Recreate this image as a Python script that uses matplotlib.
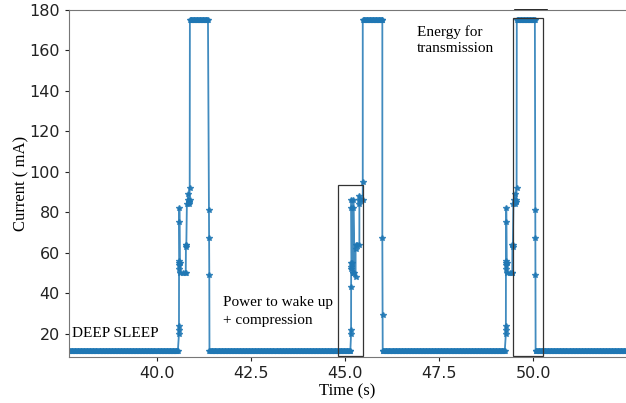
import numpy as np
import matplotlib.pyplot as plt
from matplotlib.patches import Rectangle

plt.rcParams['font.family'] = ['DejaVu Sans']
serif = ['Liberation Serif', 'DejaVu Serif']

# sampling step of the logger (s)
dt = 0.02

# flat parts: (start, end, current mA)
sleep_level = 11.3
tx_level = 175.0
sleep_parts = [(37.60, 40.58), (41.40, 45.15), (46.00, 49.26), (50.06, 52.50)]
tx_parts = [(40.88, 41.38), (45.47, 45.99), (49.56, 50.05)]

# wake up + compression (fast samples), one list per cycle
wake1_t = [40.59, 40.59, 40.59, 40.592, 40.595, 40.60, 40.60, 40.60, 40.60,
           40.61, 40.62, 40.70, 40.76, 40.77, 40.775, 40.78, 40.785, 40.80,
           40.82, 40.83, 40.85, 40.86, 40.87, 40.875]
wake1_i = [20, 22, 24, 54, 56, 52, 55, 75, 82,
           55, 50, 50, 50, 50, 64, 64, 63, 84,
           86, 89, 84, 85, 86, 92]
wake2_t = [45.16, 45.16, 45.16, 45.162, 45.165, 45.17, 45.17, 45.17, 45.18,
           45.20, 45.22, 45.22, 45.22, 45.25, 45.28, 45.28, 45.28, 45.33,
           45.38, 45.38, 45.38, 45.38, 45.42, 45.47, 45.47]
wake2_i = [20, 22, 43, 52, 55, 53, 82, 86, 55,
           50, 50, 82, 86, 50, 48, 62, 64, 64,
           64, 84, 86, 88, 86, 86, 95]
wake3_t = [49.27, 49.27, 49.27, 49.272, 49.275, 49.28, 49.28, 49.28, 49.28,
           49.29, 49.30, 49.38, 49.43, 49.44, 49.445, 49.45, 49.455, 49.47,
           49.49, 49.50, 49.52, 49.53, 49.55, 49.555]
wake3_i = [20, 22, 24, 54, 56, 52, 55, 75, 82,
           55, 50, 50, 50, 50, 64, 64, 63, 84,
           86, 89, 84, 85, 86, 92]

# tail after transmission
drop1_t = [41.385, 41.39, 41.395]
drop1_i = [81, 67, 49]
drop2_t = [45.99, 45.995]
drop2_i = [67, 29]
drop3_t = [50.05, 50.052, 50.055]
drop3_i = [81, 67, 49]


def flat(a, b, level):
    t = np.arange(a, b, dt)
    return list(t), [level] * len(t)


t_all, i_all = [], []
wakes = [(wake1_t, wake1_i), (wake2_t, wake2_i), (wake3_t, wake3_i)]
drops = [(drop1_t, drop1_i), (drop2_t, drop2_i), (drop3_t, drop3_i)]
for k in range(4):
    t, c = flat(*sleep_parts[k], sleep_level)
    t_all += t
    i_all += c
    if k < 3:
        t_all += wakes[k][0]
        i_all += wakes[k][1]
        t, c = flat(*tx_parts[k], tx_level)
        t_all += t
        i_all += c
        t_all += drops[k][0]
        i_all += drops[k][1]

fig = plt.figure(figsize=(6.26, 4.03), dpi=100)
ax = fig.add_axes([69 / 626, 46 / 403, 557 / 626, 347.5 / 403])

ax.plot(t_all, i_all, color='#1f77b4', lw=1.3, alpha=0.85,
        marker='*', markersize=4)

# boxes around the regions of interest
ax.add_patch(Rectangle((44.82, 9.2), 0.65, 84.3, fill=False,
                       edgecolor='#333333', lw=0.9, zorder=3))
ax.add_patch(Rectangle((49.47, 9.2), 0.78, 166.8, fill=False,
                       edgecolor='#333333', lw=0.9, zorder=3))
ax.plot([49.52, 50.35], [180, 180], color='black', lw=1.2, clip_on=False)

ax.text(37.75, 20, 'DEEP SLEEP', family=serif, fontsize=11, va='center')
ax.text(41.76, 31, 'Power to wake up\n+ compression', family=serif,
        fontsize=11, va='center', linespacing=1.5)
ax.text(46.91, 165, 'Energy for\ntransmission', family=serif,
        fontsize=11, va='center', linespacing=1.25)

ax.set_xlim(37.67, 52.46)
ax.set_ylim(8.5, 180)
ax.set_yticks([20, 40, 60, 80, 100, 120, 140, 160, 180])
ax.set_xticks([40.0, 42.5, 45.0, 47.5, 50.0])
ax.tick_params(labelsize=11.5, colors='#222222', length=3)
for s in ['left', 'bottom', 'top']:
    ax.spines[s].set_color('#777777')
ax.spines['right'].set_visible(False)

ax.set_xlabel('Time (s)', family=serif, fontsize=12, labelpad=2)
ax.set_ylabel('Current ( mA)', family=serif, fontsize=12, labelpad=0)

plt.savefig('out.png', dpi=100)
